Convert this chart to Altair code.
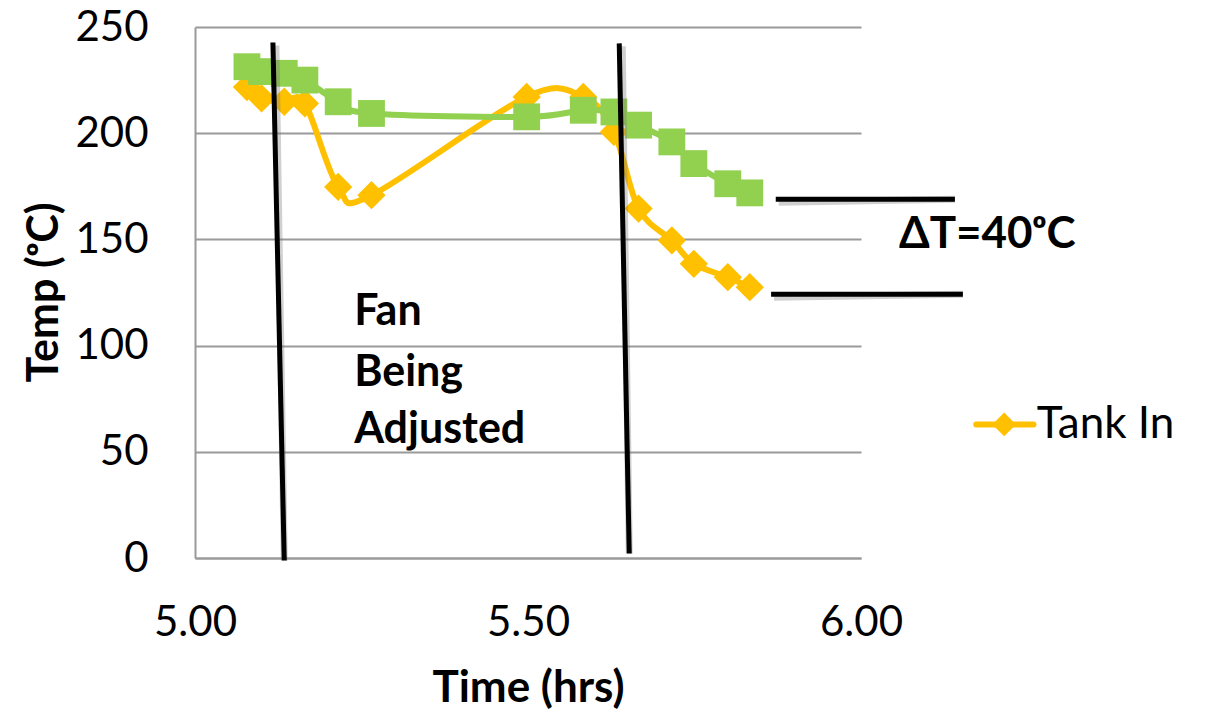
import altair as alt
import pandas as pd

# ---- data ----
time_hrs = [5.078, 5.100, 5.134, 5.165, 5.215, 5.265, 5.498, 5.583, 5.629, 5.666, 5.716, 5.749, 5.800, 5.833]
tank_in = [221.7, 216.4, 214.8, 214.0, 174.7, 170.8, 217.1, 217.1, 200.6, 164.5, 149.5, 138.5, 132.2, 127.5]
tank_out = [231.3, 229.0, 228.2, 225.0, 214.8, 209.3, 207.7, 210.8, 210.0, 203.8, 195.9, 185.7, 176.2, 171.9]

# annotation: slanted vertical lines marking the fan adjustment period
fan_x_top = [5.117, 5.637]
fan_y_top = [242.7, 242.3]
fan_x_bot = [5.134, 5.652]
fan_y_bot = [-1.2, 2.1]

# annotation: horizontal lines for delta T
dt_x_start = [5.872, 5.865]
dt_x_end = [6.141, 6.153]
dt_y = [168.9, 124.2]

fan_text_lines = ["Fan", "Being", "Adjusted"]
fan_text_x = [5.239, 5.239, 5.239]
fan_text_y = [109.6, 80.8, 54.0]

dt_text = ["ΔT=40ᵒC"]
dt_text_x = [6.057]
dt_text_y = [145.9]

legend_label = ["Tank In"]
legend_line_x = [6.173]
legend_line_x2 = [6.259]
legend_mark_x = [6.215]
legend_y = [62.9]
legend_text_x = [6.264]
legend_text_y = [56.3]

YELLOW = "#FFC000"
GREEN = "#92D050"
GRID = "#9A9A9A"
FONT = "Lato"

df_in = pd.DataFrame({"x": time_hrs, "y": tank_in})
df_out = pd.DataFrame({"x": time_hrs, "y": tank_out})
df_fan = pd.DataFrame({"x": fan_x_top, "y": fan_y_top, "x2": fan_x_bot, "y2": fan_y_bot})
df_dt = pd.DataFrame({"x": dt_x_start, "x2": dt_x_end, "y": dt_y, "y2": dt_y})
df_fan_text = pd.DataFrame({"x": fan_text_x, "y": fan_text_y, "t": fan_text_lines})
df_dt_text = pd.DataFrame({"x": dt_text_x, "y": dt_text_y, "t": dt_text})
df_leg_line = pd.DataFrame({"x": legend_line_x, "x2": legend_line_x2, "y": legend_y, "y2": legend_y})
df_leg_mark = pd.DataFrame({"x": legend_mark_x, "y": legend_y})
df_leg_text = pd.DataFrame({"x": legend_text_x, "y": legend_text_y, "t": legend_label})

xs = alt.Scale(domain=[5.0, 6.0], nice=False, zero=False)
ys = alt.Scale(domain=[0, 250], nice=False)

x_axis = alt.Axis(
    values=[5.0, 5.5, 6.0], format=".2f", grid=False, ticks=False, tickSize=0,
    domainColor=GRID, domainWidth=2, labelFont=FONT, labelFontSize=42,
    labelColor="black", labelPadding=44, labelFlush=False, labelOverlap=False,
    title="Time (hrs)", titleFont=FONT, titleFontSize=44, titleFontWeight="bold",
    titleColor="black", titleX=333, titleY=130, titleBaseline="middle", titleAlign="center",
)
y_axis = alt.Axis(
    values=[0, 50, 100, 150, 200, 250], grid=True, gridColor=GRID, gridWidth=2,
    ticks=False, tickSize=0, domainColor=GRID, domainWidth=2,
    labelFont=FONT, labelFontSize=42, labelColor="black", labelPadding=47,
    title="Temp (ᵒC)", titleFont=FONT, titleFontSize=43, titleFontWeight="bold",
    titleColor="black", titleX=-151, titleY=265, titleBaseline="middle", titleAlign="center",
    titleAngle=270,
)

X = alt.X("x:Q", scale=xs, axis=x_axis)
Y = alt.Y("y:Q", scale=ys, axis=y_axis)

in_line = alt.Chart(df_in).mark_line(
    color=YELLOW, strokeWidth=6, interpolate="cardinal", tension=0, strokeJoin="round"
).encode(x=X, y=Y)
in_pts = alt.Chart(df_in).mark_point(
    shape="diamond", filled=True, color=YELLOW, size=800, opacity=1
).encode(x=X, y=Y)
out_line = alt.Chart(df_out).mark_line(
    color=GREEN, strokeWidth=6, interpolate="cardinal", tension=0, strokeJoin="round"
).encode(x=X, y=Y)
out_pts = alt.Chart(df_out).mark_point(
    shape="square", filled=True, color=GREEN, size=720, opacity=1
).encode(x=X, y=Y)

fan_shadow = alt.Chart(df_fan).mark_rule(
    color="#777777", strokeWidth=7, opacity=0.35, xOffset=3, yOffset=3
).encode(x=X, y=Y, x2="x2:Q", y2="y2:Q")
fan_rules = alt.Chart(df_fan).mark_rule(color="black", strokeWidth=5).encode(
    x=X, y=Y, x2="x2:Q", y2="y2:Q"
)
dt_shadow = alt.Chart(df_dt).mark_rule(
    color="#777777", strokeWidth=7, opacity=0.35, xOffset=3, yOffset=3
).encode(x=X, y=Y, x2="x2:Q", y2="y2:Q")
dt_rules = alt.Chart(df_dt).mark_rule(color="black", strokeWidth=5).encode(
    x=X, y=Y, x2="x2:Q", y2="y2:Q"
)

fan_txt = alt.Chart(df_fan_text).mark_text(
    font=FONT, fontSize=43, fontWeight="bold", align="left", baseline="alphabetic", color="black"
).encode(x=X, y=Y, text="t:N")
dt_txt = alt.Chart(df_dt_text).mark_text(
    font=FONT, fontSize=44, fontWeight="bold", align="left", baseline="alphabetic", color="black"
).encode(x=X, y=Y, text="t:N")

leg_line = alt.Chart(df_leg_line).mark_rule(
    color=YELLOW, strokeWidth=6, strokeCap="round"
).encode(x=X, y=Y, x2="x2:Q", y2="y2:Q")
leg_mark = alt.Chart(df_leg_mark).mark_point(
    shape="diamond", filled=True, color=YELLOW, size=560, opacity=1
).encode(x=X, y=Y)
leg_txt = alt.Chart(df_leg_text).mark_text(
    font=FONT, fontSize=44, align="left", baseline="alphabetic", color="black"
).encode(x=X, y=Y, text="t:N")

chart = alt.layer(
    in_line, in_pts, out_line, out_pts,
    fan_shadow, fan_rules, dt_shadow, dt_rules,
    fan_txt, dt_txt, leg_line, leg_mark, leg_txt,
).properties(
    width=666, height=531,
    padding={"left": 195, "top": 27, "right": 345, "bottom": 154},
    autosize=alt.AutoSizeParams(type="none"),
    background="white",
).configure_view(stroke=None)

chart.save("out.html", embed_options={"renderer": "svg", "actions": False})
